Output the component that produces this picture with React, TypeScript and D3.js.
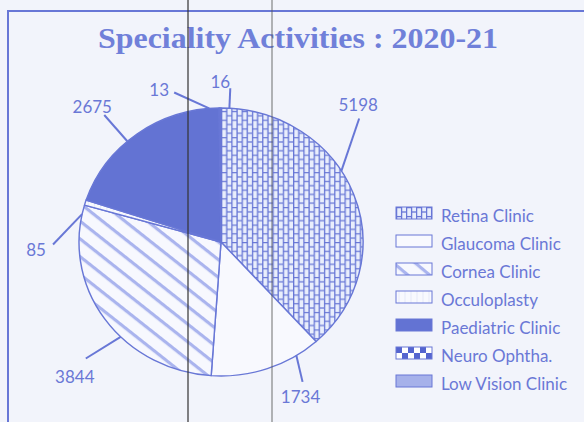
import React from "react";
import * as d3 from "d3";

const categories = [
  "Retina Clinic",
  "Glaucoma Clinic",
  "Cornea Clinic",
  "Occuloplasty",
  "Paediatric Clinic",
  "Neuro Ophtha.",
  "Low Vision Clinic",
];
const values = [5198, 1734, 3844, 85, 2675, 13, 16];
const title = "Speciality Activities : 2020-21";

// label layout (style only): leader start nudge, end nudge (deg), extension, text offset
const startNudge = [-11, -13, -10, -13, -5, -6, 3.6];
const labelNudge = [-22, -10, -7, -18, -5, -16, 3.5];
const labelExt = [47, 26, 40, 26, 35, 22, 20];
const labelDx = [-1, -2, -11, -17, -12, -15, -10];
const labelDy = [-14, 15, 18, 5, -8, -3, -7];

const BLUE = "#6877d6";
const W = 584;
const H = 422;
const cx = 221;
const cy = 242;
const rx = 142;
const ry = 134;
const R = 138;
const TOL = (4 * Math.PI) / 180;

const fills = [
  "url(#pRetina)",
  "#f8f9fe",
  "url(#pCornea)",
  "url(#pOcc)",
  "#6373d3",
  "url(#pNeuro)",
  "#a6b1ea",
];

export default function App() {
  const pie = d3
    .pie<number>()
    .sort(null)
    .value((d) => d)
    .startAngle(0)
    .endAngle(2 * Math.PI);
  const arcs = pie(values);
  const arcGen = d3.arc<d3.PieArcDatum<number>>().innerRadius(0).outerRadius(R);

  return (
    <svg
      width={W}
      height={H}
      style={{ position: "absolute", left: 0, top: 0 }}
      xmlns="http://www.w3.org/2000/svg"
    >
      <defs>
        <pattern id="pRetina" width="10" height="18" patternUnits="userSpaceOnUse">
          <rect width="10" height="18" fill="#e9eefc" />
          <line x1="0.6" y1="0" x2="0.6" y2="18" stroke={BLUE} strokeWidth="1.3" />
          <line x1="5.6" y1="0" x2="5.6" y2="18" stroke={BLUE} strokeWidth="1.3" />
          <line x1="0" y1="0.6" x2="5.6" y2="0.6" stroke={BLUE} strokeWidth="1.3" />
          <line x1="0" y1="9.6" x2="5.6" y2="9.6" stroke={BLUE} strokeWidth="1.3" />
          <line x1="5.6" y1="5" x2="10" y2="5" stroke={BLUE} strokeWidth="1.3" />
          <line x1="5.6" y1="14" x2="10" y2="14" stroke={BLUE} strokeWidth="1.3" />
        </pattern>
        <pattern
          id="pCornea"
          width="14"
          height="14"
          patternUnits="userSpaceOnUse"
          patternTransform="rotate(40)"
        >
          <rect width="14" height="14" fill="#f7f8fe" />
          <rect x="0" y="0" width="14" height="3.2" fill="#aab4ee" />
        </pattern>
        <pattern id="pOcc" width="6" height="6" patternUnits="userSpaceOnUse">
          <rect width="6" height="6" fill="#f8f9fe" />
          <line x1="3" y1="0" x2="3" y2="6" stroke="#e6eaf9" strokeWidth="1" />
        </pattern>
        <pattern id="pNeuro" width="12" height="12" patternUnits="userSpaceOnUse">
          <rect width="12" height="12" fill="#ffffff" />
          <rect x="0" y="0" width="6" height="6" fill="#5565cf" />
          <rect x="6" y="6" width="6" height="6" fill="#5565cf" />
        </pattern>
      </defs>

      <rect width={W} height={H} fill="#f2f4fb" />
      <rect x={8} y={11} width={W + 20} height={H + 20} fill="none" stroke={BLUE} strokeWidth={2} />

      <text
        x={298}
        y={48}
        textAnchor="middle"
        fontFamily="'Liberation Serif', 'Times New Roman', serif"
        fontWeight="bold"
        fontSize={30}
        fill="#7080d9"
        textLength={400}
        lengthAdjust="spacingAndGlyphs"
      >
        {title}
      </text>

      <g transform={`translate(${cx},${cy}) scale(${rx / R},${ry / R})`}>
        {arcs.map((a, i) => (
          <path
            key={categories[i]}
            d={arcGen(a) || ""}
            fill={fills[i]}
            stroke={BLUE}
            strokeWidth={1.4}
            strokeLinejoin="round"
          />
        ))}
      </g>

      <g fontFamily="Lato, 'Open Sans', sans-serif" fontSize={17} fill="#6a78d6">
        {arcs.map((a, i) => {
          const mid = (a.startAngle + a.endAngle) / 2;
          const s = Math.min(
            a.endAngle + TOL,
            Math.max(a.startAngle - TOL, mid + (startNudge[i] * Math.PI) / 180)
          );
          const sx = cx + rx * Math.sin(s);
          const sy = cy - ry * Math.cos(s);
          const la = mid + (labelNudge[i] * Math.PI) / 180;
          const ex = cx + (rx + labelExt[i]) * Math.sin(la);
          const ey = cy - (ry + labelExt[i]) * Math.cos(la);
          return (
            <g key={"l" + i}>
              <line x1={sx} y1={sy} x2={ex} y2={ey} stroke={BLUE} strokeWidth={2} />
              <text
                x={ex + labelDx[i]}
                y={ey + labelDy[i]}
                textAnchor="middle"
                dominantBaseline="central"
              >
                {values[i]}
              </text>
            </g>
          );
        })}
      </g>

      <g fontFamily="Lato, 'Open Sans', sans-serif" fontSize={17} fill="#6a78d6">
        {categories.map((c, i) => (
          <g key={c} transform={`translate(396,${207 + i * 28})`}>
            <rect width={36} height={12} fill={fills[i]} stroke={BLUE} strokeWidth={1} />
            <text x={45} y={15}>
              {c}
            </text>
          </g>
        ))}
      </g>

      <line x1={188} y1={0} x2={188} y2={H} stroke="#333" strokeWidth={1.5} opacity={0.8} />
      <line x1={272} y1={0} x2={272} y2={H} stroke="#555" strokeWidth={1.2} opacity={0.7} />
    </svg>
  );
}
